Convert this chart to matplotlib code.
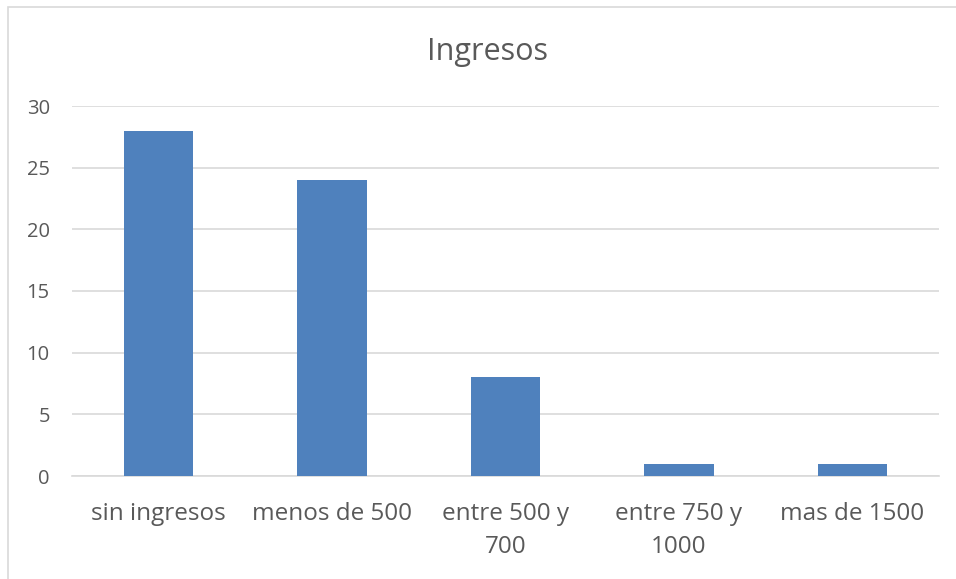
import matplotlib.pyplot as plt
from matplotlib.patches import Rectangle

# Datos del grafico
categorias = ['sin ingresos', 'menos de 500', 'entre 500 y\n700', 'entre 750 y\n1000', 'mas de 1500']
valores = [28, 24, 8, 1, 1]
yticks = [0, 5, 10, 15, 20, 25, 30]

plt.rcParams['font.family'] = ['Open Sans', 'DejaVu Sans']

fig = plt.figure(figsize=(9.56, 5.79), dpi=100)
ax = fig.add_axes([72 / 956, 1 - 476 / 579, (939 - 72) / 956, (476 - 106) / 579])

x = range(len(categorias))
ax.bar(x, valores, width=0.4, color='#4f81bd', zorder=3)

ax.set_xlim(-0.5, len(categorias) - 0.5)
ax.set_ylim(0, 30)
ax.set_yticks(yticks)
ax.set_xticks(list(x))
ax.set_xticklabels(categorias, fontsize=17.5, color='#595959', linespacing=1.5)
ax.tick_params(axis='y', labelsize=14.5, colors='#595959', length=0, pad=16)
ax.tick_params(axis='x', length=0, pad=19)
for lbl in ax.get_yticklabels():
    lbl.set_horizontalalignment('right')

ax.grid(axis='y', color='#d9d9d9', linewidth=1.2, zorder=0)
for s in ['top', 'right', 'left']:
    ax.spines[s].set_visible(False)
ax.spines['bottom'].set_color('#d9d9d9')
ax.spines['bottom'].set_linewidth(1.2)

fig.text(488 / 956, 1 - 52 / 579, 'Ingresos', ha='center', va='center',
         fontsize=22, color='#595959')

# marco del grafico (solo se ve borde izquierdo y superior)
fig.patches.append(Rectangle((8 / 956, -0.1), 1.2, 1.1 - 7 / 579,
                             transform=fig.transFigure, fill=False,
                             edgecolor='#d9d9d9', linewidth=1.2))

fig.savefig('out.png', dpi=100)
